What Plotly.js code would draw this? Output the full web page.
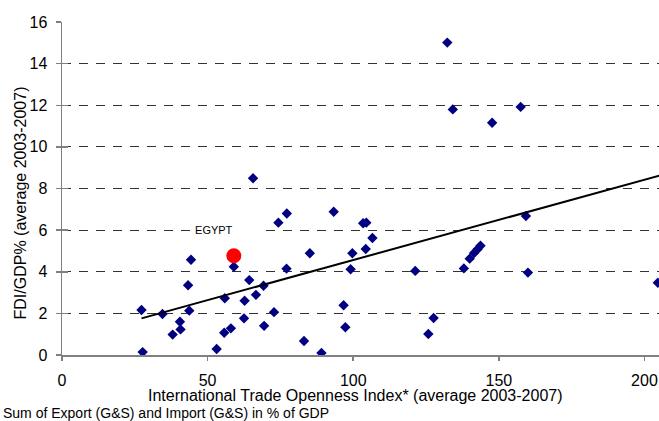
<!DOCTYPE html>
<html>
<head>
<meta charset="utf-8">
<script src="https://cdn.plot.ly/plotly-3.0.1.min.js"></script>
<style>html,body{margin:0;padding:0;background:#fff;}#chart{width:659px;height:421px;}</style>
</head>
<body>
<div id="chart"></div>
<script>
// Countries: trade openness (x) vs FDI/GDP % (y)
const opennessX = [27.3, 27.7, 34.5, 38.0, 40.5, 40.7, 43.3, 44.3, 43.7, 53.1,
  55.7, 58.0, 55.9, 59.0, 62.5, 62.7, 64.3, 66.6, 69.4, 69.2,
  72.8, 74.3, 77.2, 77.1, 83.1, 85.1, 89.1, 65.6, 93.3, 103.4,
  104.5, 106.6, 104.3, 99.7, 99.1, 96.7, 97.3, 121.3, 127.6, 125.8,
  138.0, 140.0, 141.5, 142.7, 143.7, 159.3, 160.0, 204.6, 132.3, 134.2,
  147.7, 157.5];
const fdiY = [2.16, 0.14, 1.97, 0.98, 1.60, 1.23, 3.35, 4.58, 2.13, 0.29,
  1.07, 1.28, 2.73, 4.24, 1.76, 2.61, 3.60, 2.89, 1.40, 3.33,
  2.06, 6.36, 6.80, 4.15, 0.67, 4.89, 0.10, 8.49, 6.88, 6.33,
  6.36, 5.62, 5.09, 4.89, 4.12, 2.39, 1.33, 4.04, 1.78, 1.01,
  4.16, 4.63, 4.90, 5.08, 5.25, 6.68, 3.96, 3.47, 15.01, 11.80,
  11.16, 11.92];
const egyptX = [59.0];
const egyptY = [4.77];
const trendX = [27.3, 206];
const trendY = [1.76, 8.65];
const yTicks = [0, 2, 4, 6, 8, 10, 12, 14, 16];
const xTicks = [0, 50, 100, 150, 200];

const F = 'Liberation Sans, Arial, sans-serif';
const traces = [
  {x: opennessX, y: fdiY, type: 'scatter', mode: 'markers',
   marker: {symbol: 'diamond', size: 8, color: '#000080'}, hoverinfo: 'x+y'},
  {x: trendX, y: trendY, type: 'scatter', mode: 'lines',
   line: {color: '#000', width: 2}},
  {x: egyptX, y: egyptY, type: 'scatter', mode: 'markers',
   marker: {symbol: 'circle', size: 15, color: '#FF0000'}},
  {x: [0], y: [0], type: 'scatter', mode: 'markers', yaxis: 'y2',
   marker: {opacity: 0}, hoverinfo: 'skip'}
];
const layout = {
  width: 659, height: 421,
  margin: {l: 62, r: 0, t: 22, b: 66},
  paper_bgcolor: '#fff', plot_bgcolor: '#fff',
  showlegend: false,
  font: {family: F, size: 16, color: '#000'},
  xaxis: {
    range: [0, 205], tickvals: xTicks, ticktext: xTicks.map(String),
    showgrid: false, zeroline: false,
    showline: true, linecolor: '#808080', linewidth: 1.5,
    ticks: 'outside', ticklen: 4, tickcolor: '#808080', tickwidth: 1.5,
    tickfont: {family: F, size: 16, color: '#000'}, ticklabelstandoff: 6
  },
  yaxis: {
    range: [0, 16], tickvals: yTicks, ticktext: yTicks.map(String),
    showgrid: true, gridcolor: '#333', gridwidth: 1, griddash: '9px,8px',
    zeroline: false,
    showline: true, linecolor: '#808080', linewidth: 1.5,
    ticks: 'outside', ticklen: 5, tickcolor: '#808080', tickwidth: 1.5,
    tickfont: {family: F, size: 16, color: '#000'}, ticklabelstandoff: 5
  },
  yaxis2: {
    overlaying: 'y', range: [0, 16], tickvals: yTicks, showticklabels: false,
    showgrid: false, zeroline: false, showline: false,
    ticks: 'inside', ticklen: 6, tickcolor: '#808080', tickwidth: 1.5
  },
  annotations: [
    {xref: 'paper', yref: 'paper', x: (20 - 62) / 597, y: (355 - 203.5) / 333,
     xanchor: 'center', yanchor: 'middle', textangle: -90, showarrow: false,
     text: 'FDI/GDP% (average 2003-2007)', font: {family: F, size: 16, color: '#000'}},
    {xref: 'paper', yref: 'paper', x: (355.5 - 62) / 597, y: -40 / 333,
     xanchor: 'center', yanchor: 'middle', showarrow: false,
     text: 'International Trade Openness Index* (average 2003-2007)',
     font: {family: F, size: 16, color: '#000'}},
    {xref: 'paper', yref: 'paper', x: (1 - 62) / 597, y: -58 / 333,
     xanchor: 'left', yanchor: 'middle', showarrow: false,
     text: 'Sum of Export (G&S) and Import (G&S) in % of GDP',
     font: {family: F, size: 14, color: '#000'}},
    {xref: 'x', yref: 'y', x: (190 - 62) / 2.915, y: 6,
     xanchor: 'left', yanchor: 'middle', showarrow: false,
     text: '&nbsp;EGYPT', width: 70, align: 'left', bgcolor: '#fff', borderpad: 1,
     font: {family: F, size: 11, color: '#000'}}
  ]
};
Plotly.newPlot('chart', traces, layout, {staticPlot: true, displayModeBar: false});
</script>
</body>
</html>
